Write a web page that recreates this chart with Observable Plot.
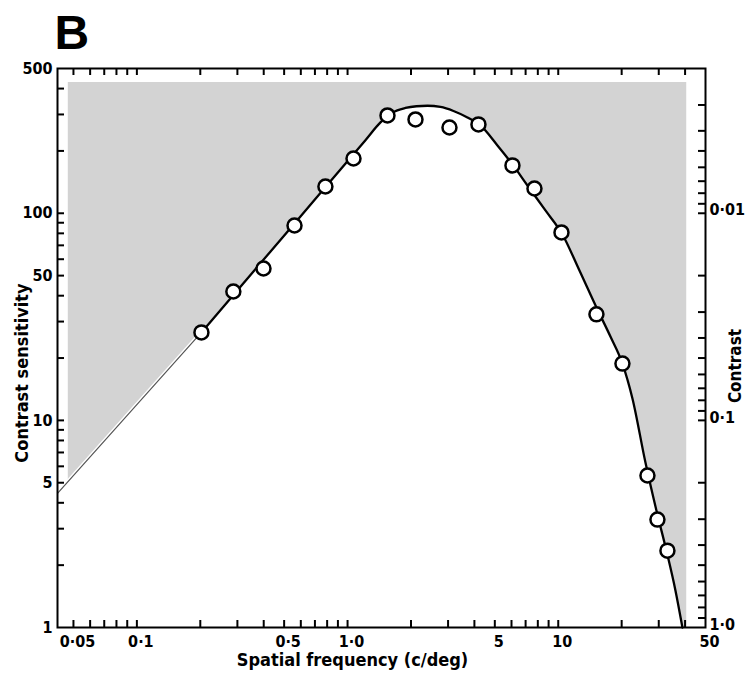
<!DOCTYPE html>
<html><head><meta charset="utf-8">
<script src="https://cdn.jsdelivr.net/npm/d3@7"></script>
<script src="https://cdn.jsdelivr.net/npm/@observablehq/plot@0.6"></script>
<style>body{margin:0;background:#fff}</style>
</head><body><div id="chart"></div>
<script>
// Measured data points (spatial frequency c/deg, contrast sensitivity)
const pointFreq = [0.2025, 0.287, 0.399, 0.560, 0.785, 1.067, 1.547, 2.101, 3.046, 4.181, 6.063, 7.712, 10.36, 15.18, 20.17, 26.51, 29.57, 32.98];
const pointSens = [26.6, 41.9, 54.1, 87.3, 134.7, 183.9, 296.7, 283.8, 259.6, 268.5, 170.2, 131.7, 80.8, 32.5, 18.8, 5.42, 3.32, 2.35];

// Fitted curve
const curveFreq = [0.2025, 0.3461, 0.5977, 0.9254, 1.216, 1.433, 1.634, 1.883, 2.123, 2.395, 2.761, 3.182, 3.708, 4.273, 5.146, 6.063, 7.144, 8.695, 10.47, 12.61, 15.18, 17.69, 20.17, 22.50, 25.94, 29.25, 32.62, 36.00, 38.86];
const curveSens = [26.6, 50.37, 96.5, 162.7, 225.4, 274.5, 306.7, 322.4, 328.6, 330.4, 326.1, 311.9, 290.1, 265.4, 212.5, 172.1, 136.2, 103.2, 79.0, 52.9, 35.1, 25.4, 18.8, 12.76, 6.26, 3.67, 2.35, 1.51, 1.0];

// Low-frequency extrapolation (thin line)
const extFreq = [0.042, 0.2025];
const extSens = [4.44, 26.6];

// Shaded region bounds
const shadeTop = 430;
const shadeLeftFreq = 0.047;
const shadeLeftSens = 5.07;
const shadeRightFreq = 40.5;

// Axis ticks
const xTicks = [0.05,0.06,0.07,0.08,0.09,0.1,0.2,0.3,0.4,0.5,0.6,0.7,0.8,0.9,1,2,3,4,5,6,7,8,9,10,20,30,40];
const xLabelVals = [0.05, 0.1, 0.5, 1, 5, 10, 50];
const xLabelText = ["0·05", "0·1", "0·5", "1·0", "5", "10", "50"];
const yTicks = [2,3,4,5,6,7,8,9,10,20,30,40,50,60,70,80,90,100,200,300,400];
const yLabelVals = [1, 5, 10, 50, 100, 500];
const yLabelText = ["1", "5", "10", "50", "100", "500"];
const contrastTicks = [0.003,0.004,0.005,0.006,0.007,0.008,0.009,0.01,0.02,0.03,0.04,0.05,0.06,0.07,0.08,0.09,0.1,0.2,0.3,0.4,0.5,0.6,0.7,0.8,0.9];
const contrastLabelVals = [0.01, 0.1, 1.0];
const contrastLabelText = ["0·01", "0·1", "1·0"];

const points = pointFreq.map((f, i) => ({f, s: pointSens[i]}));
const curve = curveFreq.map((f, i) => ({f, s: curveSens[i]}));
const ext = extFreq.map((f, i) => ({f, s: extSens[i]}));
const shade = [
  {f: shadeLeftFreq, s: shadeTop},
  {f: shadeLeftFreq, s: shadeLeftSens},
  ...curve,
  {f: shadeRightFreq, s: 1},
  {f: shadeRightFreq, s: shadeTop}
];

const W = 748, H = 674, mT = 68, mR = 43, mB = 47, mL = 57;
const fw = W - mL - mR, fh = H - mT - mB, tk = 7;
const font = '"DejaVu Sans Condensed", "Liberation Sans Narrow", "DejaVu Sans", sans-serif';

const chart = Plot.plot({
  width: W, height: H,
  marginTop: mT, marginRight: mR, marginBottom: mB, marginLeft: mL,
  x: {type: "log", domain: [0.042, 50], axis: null},
  y: {type: "log", domain: [1, 500], axis: null},
  style: {fontFamily: font, fontSize: "16px", color: "black", background: "white"},
  marks: [
    Plot.line(shade, {x: "f", y: "s", fill: "#d3d3d3", stroke: "none", curve: "linear"}),
    Plot.line(ext, {x: "f", y: "s", stroke: "white", strokeWidth: 4}),
    Plot.line(ext, {x: "f", y: "s", stroke: "#555", strokeWidth: 1.2}),
    Plot.line(curve, {x: "f", y: "s", stroke: "black", strokeWidth: 2.3, curve: "monotone-x"}),
    Plot.dot(points, {x: "f", y: "s", r: 7, fill: "white", stroke: "black", strokeWidth: 2.5}),
    Plot.frame({stroke: "black", strokeWidth: 2}),
    // ticks (inward)
    Plot.tickX(xTicks, {x: d => d, insetTop: fh - tk, stroke: "black", strokeWidth: 2}),
    Plot.tickX(xTicks, {x: d => d, insetBottom: fh - tk, stroke: "black", strokeWidth: 2}),
    Plot.tickY(yTicks, {y: d => d, insetRight: fw - tk, stroke: "black", strokeWidth: 2}),
    Plot.tickY(contrastTicks, {y: d => 1 / d, insetLeft: fw - tk, stroke: "black", strokeWidth: 2}),
    // tick labels
    Plot.text(xLabelVals, {x: d => d, text: (d, i) => xLabelText[i], frameAnchor: "bottom", lineAnchor: "middle", dy: 14, dx: 4, fontWeight: "bold", fontSize: 16}),
    Plot.text(yLabelVals, {y: d => d, text: (d, i) => yLabelText[i], frameAnchor: "left", lineAnchor: "middle", dx: -5, textAnchor: "end", fontWeight: "bold", fontSize: 16}),
    Plot.text(contrastLabelVals, {y: d => 1 / d, text: (d, i) => contrastLabelText[i], frameAnchor: "right", lineAnchor: "middle", dx: 4, dy: -3, textAnchor: "start", fontWeight: "bold", fontSize: 16}),
    // titles
    Plot.text(["Spatial frequency (c/deg)"], {frameAnchor: "bottom", lineAnchor: "middle", textAnchor: "middle", dy: 33, dx: -29, fontWeight: "bold", fontSize: 18}),
    Plot.text(["Contrast sensitivity"], {frameAnchor: "left", lineAnchor: "middle", textAnchor: "middle", dx: -35, dy: 25, rotate: -90, fontWeight: "bold", fontSize: 18}),
    Plot.text(["Contrast"], {frameAnchor: "right", lineAnchor: "middle", textAnchor: "middle", dx: 30, dy: 18, rotate: -90, fontWeight: "bold", fontSize: 17}),
    Plot.text(["B"], {frameAnchor: "top-left", lineAnchor: "middle", dx: -3, dy: -35, textAnchor: "start", fontFamily: '"Liberation Sans", Arial, sans-serif', fontWeight: "bold", fontSize: 48})
  ]
});
document.getElementById("chart").appendChild(chart);
</script></body></html>
